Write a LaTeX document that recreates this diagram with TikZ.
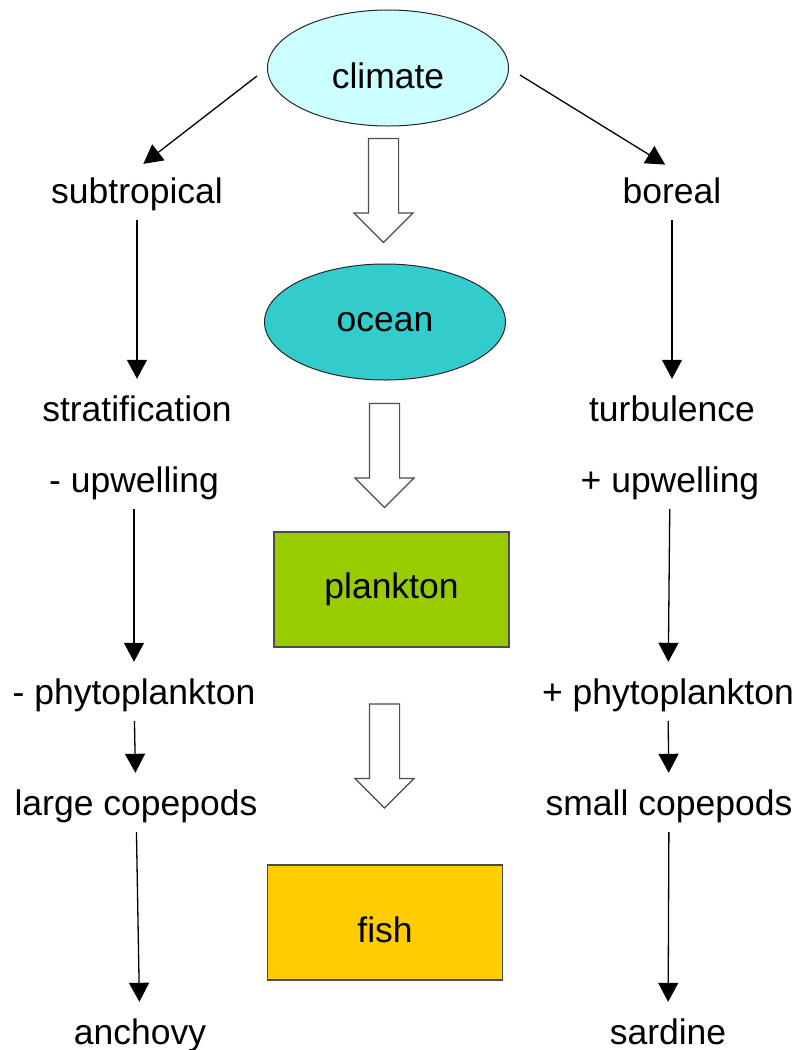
\documentclass[tikz,border=0pt]{standalone}
\usepackage{fontspec}
\setmainfont{Liberation Sans}
\usetikzlibrary{arrows.meta,shapes.geometric,shapes.arrows}
\tikzset{>={Triangle[width=20pt,length=19pt]}}
\definecolor{climatefill}{HTML}{CCFFFF}
\definecolor{oceanfill}{HTML}{33CCCC}
\definecolor{planktonfill}{HTML}{99CC00}
\definecolor{fishfill}{HTML}{FFCC00}
\tikzstyle{oval}=[ellipse,draw=black!85,line width=1pt,minimum width=241pt,minimum height=116pt,inner sep=0pt]
\tikzstyle{panel}=[rectangle,draw=black!70,line width=1.2pt,minimum width=235pt,minimum height=115pt]
\tikzstyle{term}=[anchor=base,inner sep=10pt,text height=24pt,text depth=7pt]
\tikzstyle{link}=[->,line width=1.3pt,shorten >=8pt]
\tikzstyle{flow}=[single arrow,draw=black!70,fill=white,line width=1.2pt,rotate=-90,inner sep=0pt,text height=29pt,text depth=0pt,minimum height=104pt,single arrow head extend=14.5pt,single arrow head indent=0pt]

\begin{document}
\begin{tikzpicture}[x=1pt,y=-1pt,font=\fontsize{35.5}{42}\selectfont]
	\def \lx {137};
	\def \rx {671};
	\useasboundingbox (0,0) rectangle (798,1050);

    % middle column
    \node[oval,fill=climatefill,text height=40pt,text depth=0pt] (climate) at (388,68) {climate};
    \node[oval,fill=oceanfill] (ocean) at (385,322) {ocean};
    \node[panel,fill=planktonfill] (plankton) at (391.5,589.5) {plankton};
    \node[panel,fill=fishfill,text height=39pt,text depth=0pt] (fish) at (385,922.5) {fish};

    \node[flow] (flow1) at (383.5,183) {};
    \node[flow] (flow2) at (384.5,448) {};
    \node[flow] (flow3) at (384.5,748.5) {};

    % left column
    \node[term] (sub) at (\lx,203) {subtropical};
    \node[term] (strat) at (\lx,421) {stratification};
    \node[term] (lup) at (\lx-3,492) {- upwelling};
    \node[term] (lphyto) at (\lx-3,704) {- phytoplankton};
    \node[term] (lcope) at (\lx-1,815) {large copepods};
    \node[term] (anchovy) at (\lx+3,1044) {anchovy};

    % right column
    \node[term] (boreal) at (\rx+1,203) {boreal};
    \node[term] (turb) at (\rx+1,421) {turbulence};
    \node[term] (rup) at (\rx-1,492) {+ upwelling};
    \node[term] (rphyto) at (\rx-3,704) {+ phytoplankton};
    \node[term] (scope) at (\rx-2,815) {small copepods};
    \node[term] (sardine) at (\rx-3,1044) {sardine};

    \draw[link] ([shift={(-10,8)}]climate.west) -- (sub.north);
    \draw[link] ([shift={(11,7)}]climate.east) -- (boreal.north);

    \draw[link] (sub) -- (strat);
    \draw[link] (lup) -- (lphyto);
    \draw[link] (lphyto) -- (lcope);
    \draw[link] (lcope) -- (anchovy);

    \draw[link] (boreal) -- (turb);
    \draw[link] (rup) -- (rphyto);
    \draw[link] (rphyto) -- (scope);
    \draw[link] (scope) -- (sardine);
\end{tikzpicture}
\end{document}
